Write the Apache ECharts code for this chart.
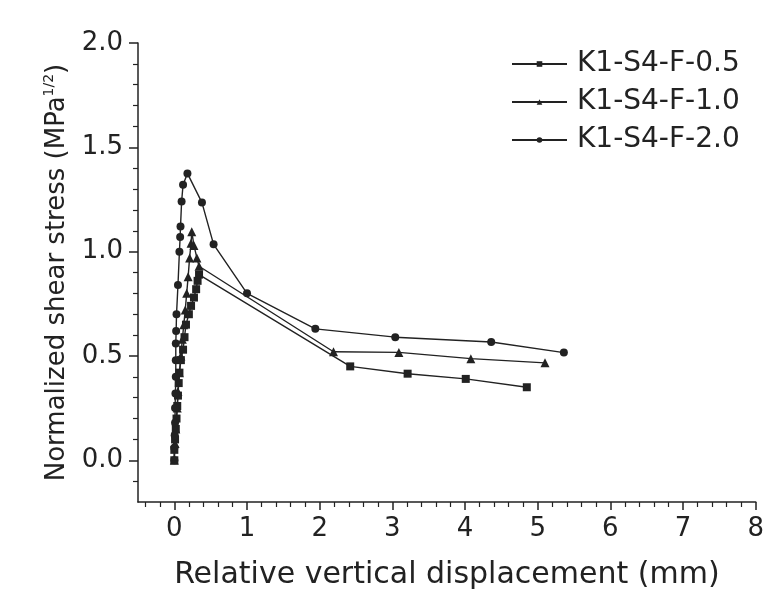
<!DOCTYPE html>
<html>
<head>
<meta charset="utf-8">
<script src="https://cdn.jsdelivr.net/npm/echarts@6/dist/echarts.min.js"></script>
<style>
html,body{margin:0;padding:0;background:#fff;}
#chart{width:767px;height:603px;}
</style>
</head>
<body>
<div id="chart"></div>
<script>
// ---- data ----
var seriesNames = ['K1-S4-F-0.5', 'K1-S4-F-1.0', 'K1-S4-F-2.0'];

var dataF05 = [
  [0, 0], [0, 0.05], [0.01, 0.10], [0.02, 0.15], [0.03, 0.20], [0.04, 0.26], [0.05, 0.31],
  [0.06, 0.37], [0.07, 0.42], [0.09, 0.48], [0.12, 0.53], [0.14, 0.59], [0.16, 0.65],
  [0.20, 0.70], [0.23, 0.74], [0.27, 0.78], [0.30, 0.82], [0.32, 0.86], [0.34, 0.89],
  [2.42, 0.45], [3.21, 0.415], [4.01, 0.39], [4.85, 0.35]
];
var dataF10 = [
  [0, 0], [0.01, 0.08], [0.02, 0.15], [0.04, 0.25], [0.05, 0.33], [0.07, 0.42], [0.09, 0.50],
  [0.11, 0.58], [0.13, 0.65], [0.15, 0.72], [0.17, 0.80], [0.19, 0.88], [0.21, 0.97],
  [0.23, 1.04], [0.24, 1.095], [0.27, 1.03], [0.31, 0.97], [0.34, 0.93],
  [2.19, 0.52], [3.09, 0.517], [4.08, 0.487], [5.10, 0.467]
];
var dataF20 = [
  [0, 0], [0, 0.06], [0.005, 0.12], [0.01, 0.18], [0.01, 0.25], [0.015, 0.32], [0.02, 0.40],
  [0.02, 0.48], [0.02, 0.56], [0.025, 0.62], [0.03, 0.70], [0.05, 0.84], [0.07, 1.00],
  [0.08, 1.07], [0.085, 1.12], [0.10, 1.24], [0.12, 1.32], [0.18, 1.375],
  [0.38, 1.235], [0.54, 1.035], [1.00, 0.80], [1.94, 0.63], [3.04, 0.59], [4.36, 0.567], [5.36, 0.516]
];

var xMajorTicks = [0, 1, 2, 3, 4, 5, 6, 7, 8];
var xMinorTicks = [-0.4, -0.2, 0.2, 0.4, 0.6, 0.8, 1.2, 1.4, 1.6, 1.8, 2.2, 2.4, 2.6, 2.8,
  3.2, 3.4, 3.6, 3.8, 4.2, 4.4, 4.6, 4.8, 5.2, 5.4, 5.6, 5.8, 6.2, 6.4, 6.6, 6.8, 7.2, 7.4, 7.6, 7.8];
var yMajorTicks = [0, 0.5, 1.0, 1.5, 2.0];
var yMinorTicks = [-0.1, 0.1, 0.2, 0.3, 0.4, 0.6, 0.7, 0.8, 0.9, 1.1, 1.2, 1.3, 1.4, 1.6, 1.7, 1.8, 1.9];

var xTitle = 'Relative vertical displacement (mm)';
var yTitle = 'Normalized shear stress (MPa{sup|1/2})';

// ---- chart ----
var FONT = 'DejaVu Sans';
var INK = '#222';
var chart = echarts.init(document.getElementById('chart'), null, {renderer: 'canvas'});

function axisBase(min, max) {
  return {
    type: 'value', min: min, max: max,
    splitLine: {show: false}
  };
}

var xMain = Object.assign(axisBase(-0.5, 8), {
  position: 'bottom',
  axisLine: {show: true, onZero: false, lineStyle: {color: INK, width: 1.5}},
  axisTick: {show: true, customValues: xMajorTicks, length: 8, lineStyle: {color: INK, width: 1.5}},
  axisLabel: {customValues: xMajorTicks, fontSize: 26, fontFamily: FONT, color: INK, margin: 14},
  name: xTitle, nameLocation: 'middle', nameGap: 58,
  nameTextStyle: {fontSize: 30, fontFamily: FONT, color: INK}
});
var xMinor = Object.assign(axisBase(-0.5, 8), {
  position: 'bottom',
  axisLine: {show: false, onZero: false},
  axisTick: {show: true, customValues: xMinorTicks, length: 5, lineStyle: {color: INK, width: 1.2}},
  axisLabel: {show: false}
});
var yMain = Object.assign(axisBase(-0.2, 2.0), {
  position: 'left',
  axisLine: {show: true, onZero: false, lineStyle: {color: INK, width: 1.5}},
  axisTick: {show: true, customValues: yMajorTicks, length: 9, lineStyle: {color: INK, width: 1.5}},
  axisLabel: {customValues: yMajorTicks, fontSize: 26, fontFamily: FONT, color: INK, margin: 15,
    formatter: function (v) { return v.toFixed(1); }},
  name: yTitle, nameLocation: 'middle', nameGap: 66,
  nameTextStyle: {fontSize: 26, fontFamily: FONT, color: INK,
    rich: {sup: {fontSize: 14, fontFamily: FONT, color: INK, verticalAlign: 'top', lineHeight: 30}}}
});
var yMinor = Object.assign(axisBase(-0.2, 2.0), {
  position: 'left',
  axisLine: {show: false, onZero: false},
  axisTick: {show: true, customValues: yMinorTicks, length: 5, lineStyle: {color: INK, width: 1.2}},
  axisLabel: {show: false}
});

function mkSeries(name, data, symbol, size) {
  return {
    name: name, type: 'line', data: data,
    xAxisIndex: 0, yAxisIndex: 0,
    symbol: symbol, symbolSize: size, showSymbol: true,
    lineStyle: {color: INK, width: 1.4},
    itemStyle: {color: INK},
    animation: false
  };
}

chart.setOption({
  backgroundColor: '#fff',
  animation: false,
  grid: {left: 138, right: 10, top: 43, bottom: 101, containLabel: false},
  legend: {
    orient: 'vertical', left: 506, top: 45, itemGap: 10,
    itemWidth: 55, itemHeight: 7,
    textStyle: {fontSize: 28, fontFamily: FONT, color: INK, padding: [0, 0, 0, 5]},
    data: seriesNames
  },
  xAxis: [xMain, xMinor],
  yAxis: [yMain, yMinor],
  series: [
    mkSeries(seriesNames[0], dataF05, 'rect', 8),
    mkSeries(seriesNames[1], dataF10, 'triangle', 9),
    mkSeries(seriesNames[2], dataF20, 'circle', 8)
  ]
});
</script>
</body>
</html>
